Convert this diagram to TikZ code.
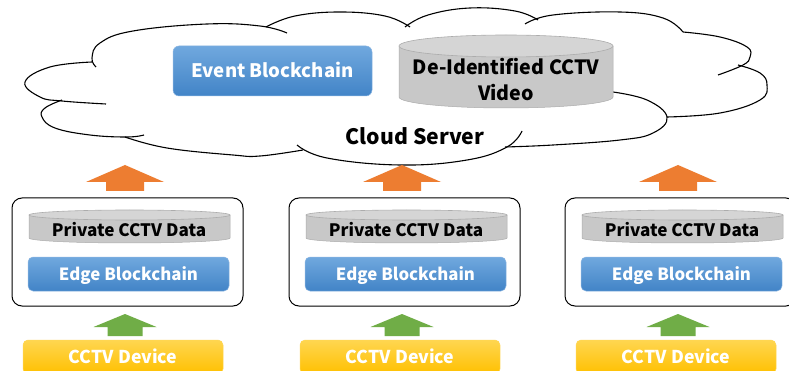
\documentclass[tikz,border=0pt]{standalone}
\usepackage{fontspec}
\newfontfamily\uifont{Noto Sans CJK KR}
\usetikzlibrary{}

\definecolor{blueTop}{RGB}{112,168,222}
\definecolor{blueBot}{RGB}{66,132,199}
\definecolor{blueEdge}{RGB}{140,182,226}
\definecolor{yelTop}{RGB}{255,214,80}
\definecolor{yelBot}{RGB}{255,192,0}
\definecolor{cylBody}{RGB}{200,200,200}
\definecolor{cylTop}{RGB}{213,213,213}
\definecolor{cylLine}{RGB}{172,172,172}
\definecolor{arrOrange}{RGB}{237,125,49}
\definecolor{arrGreen}{RGB}{112,173,71}

% drum (cylinder) : centre x, top y, bottom y, x radius, y radius
\newcommand\drumshape[5]{%
  \path[fill=cylBody, draw=cylLine, line width=0.5pt]
    (#1-#4,#2) -- (#1-#4,#3)
    arc[start angle=180, end angle=360, x radius=#4pt, y radius=#5pt]
    -- (#1+#4,#2);
  \path[fill=cylTop, draw=cylLine, line width=0.6pt]
    (#1,#2) ellipse[x radius=#4pt, y radius=#5pt];
}
% upward block arrow : colour, centre x, apex y, head half width, shaft half width, head base y, bottom y
\newcommand\blockup[7]{%
  \fill[#1] (#2,#3) -- (#2+#4,#6) -- (#2+#5,#6) -- (#2+#5,#7)
    -- (#2-#5,#7) -- (#2-#5,#6) -- (#2-#4,#6) -- cycle;
}

\begin{document}
\begin{tikzpicture}[x=1pt, y=-1pt,
  uitext/.style={font=\uifont\bfseries\fontsize{#1}{26}\selectfont},
  cloudline/.style={draw=black, line width=1.1pt},
  capcentre/.style={text height=#1, text depth=0pt},
  bluebox/.style={rounded corners=6pt, top color=blueTop, bottom color=blueBot,
    draw=blueEdge, line width=0.5pt, text=white, inner sep=0pt},
  yellowbox/.style={rounded corners=5pt, top color=yelTop, bottom color=yelBot,
    draw=yelTop, line width=0.5pt, text=white, inner sep=0pt},
  edgeframe/.style={draw=black, line width=1pt, rounded corners=10pt,
    fill=white, inner sep=0pt},
  darktext/.style={text=black, inner sep=0pt},
]
\useasboundingbox (0,0) rectangle (789,371);
\clip (0,0) rectangle (789,371);
\fill[white] (0,0) rectangle (789,371);

% ---- cloud outline, lobe by lobe ----
\begin{scope}[cloudline]
\draw plot[smooth, tension=0.7] coordinates {(92,62) (50,67) (25,82) (40,97) (62,101) (106,104)};
\draw plot[smooth, tension=0.7] coordinates {(62,100) (45,108) (42,117) (55,128) (90,135) (127,137) (144,135)};
\draw plot[smooth, tension=0.7] coordinates {(96,67) (92,58) (100,43) (133,31) (207,24) (260,26) (287,33)};
\draw plot[smooth, tension=0.7] coordinates {(266,27) (295,16) (340,12) (385,16) (410,27)};
\draw plot[smooth, tension=0.7] coordinates {(405,27) (428,15) (470,8) (515,11) (538,20)};
\draw plot[smooth, tension=0.7] coordinates {(525,24) (553,15) (620,12) (663,18) (683,32)};
\draw plot[smooth, tension=0.7] coordinates {(683,32) (720,37) (747,47) (750,57) (743,65) (718,75)};
\draw plot[smooth, tension=0.7] coordinates {(738,65) (760,73) (767,85) (760,100) (720,113) (667,117)};
\draw plot[smooth, tension=0.7] coordinates {(613,92) (647,100) (667,117) (653,133) (620,140) (553,145) (505,147)};
\draw plot[smooth, tension=0.7] coordinates {(297,145) (327,158) (400,165) (467,160) (507,147) (522,131)};
\draw plot[smooth, tension=0.7] coordinates {(125,137) (167,148) (233,155) (260,156) (303,150)};
\end{scope}

% ---- cloud contents ----
\node[bluebox, uitext=18.6, capcentre=13.6pt, minimum width=199pt, minimum height=50pt] (event) at (272.5,71) {Event Blockchain};
\drumshape{506}{46}{97}{107}{11}
\node[darktext, uitext=19.6, align=center] (deid) at (506,79) {De-Identified CCTV\\Video};
\node[darktext, uitext=21.2] (cloud) at (415,136) {Cloud Server};

% ---- three edge sites ----
\foreach \o [count=\i] in {0,277,553}{
  \blockup{arrOrange}{125+\o}{165}{39}{19}{182}{191}
  \node[edgeframe, minimum width=231pt, minimum height=108pt] (site\i) at (127.5+\o,252) {};
  \drumshape{129.5+\o}{215}{238}{100.5}{5}
  \node[darktext, uitext=17.1, capcentre=12.5pt] (pvt\i) at (129+\o,230.5) {Private CCTV Data};
  \node[bluebox, uitext=16.8, capcentre=12.3pt, rounded corners=5pt, minimum width=201pt, minimum height=34pt] (ebc\i) at (128.5+\o,274) {Edge Blockchain};
  \blockup{arrGreen}{125+\o}{314}{31.5}{17.5}{327}{336}
  \node[yellowbox, uitext=17.7, capcentre=13pt, minimum width=200pt, minimum height=34pt] (dev\i) at (123+\o,357) {CCTV Device};
}
\end{tikzpicture}
\end{document}
